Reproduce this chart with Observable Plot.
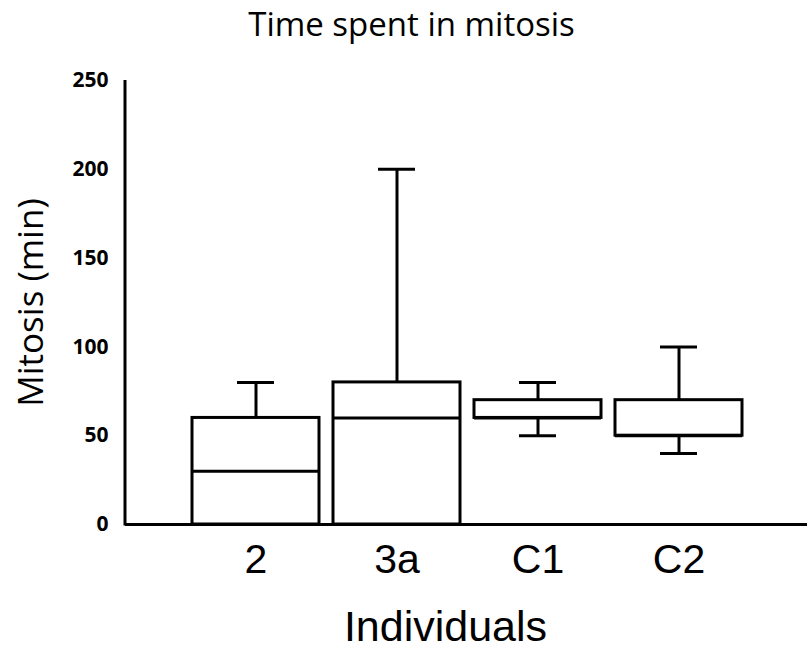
<!DOCTYPE html>
<html>
<head>
<meta charset="utf-8">
<script src="https://cdn.jsdelivr.net/npm/d3@7"></script>
<script src="https://cdn.jsdelivr.net/npm/@observablehq/plot@0.6"></script>
<style>
  html, body { margin: 0; padding: 0; background: #fff; }
</style>
</head>
<body>
<div id="chart"></div>
<script>
const categories = ["2", "3a", "C1", "C2"];
const mins    = [0, 0, 50, 40];
const q1s     = [0, 0, 60, 50];
const medians = [30, 60, 60, 50];
const q3s     = [60, 80, 70, 70];
const maxs    = [80, 200, 80, 100];
const yTicks  = [0, 50, 100, 150, 200, 250];
const title = "Time spent in mitosis";
const yLabel = "Mitosis (min)";
const xLabel = "Individuals";

const data = categories.map((c, i) => ({
  cat: c, min: mins[i], q1: q1s[i], median: medians[i], q3: q3s[i], max: maxs[i]
}));

const W = 807, H = 652;
const mL = 125, mR = 0, mT = 80, mB = 128;
const sans = "'Open Sans', sans-serif";
const arial = "'Liberation Sans', Arial, sans-serif";

const chart = Plot.plot({
  width: W,
  height: H,
  marginLeft: mL,
  marginRight: mR,
  marginTop: mT,
  marginBottom: mB,
  style: { background: "#fff", color: "#000", fontFamily: sans },
  x: { type: "band", domain: categories, range: [191, 744], paddingInner: 0.097, paddingOuter: 0, label: null },
  y: { domain: [0, 250], label: null },
  marks: [
    // whiskers
    Plot.ruleX(data, { x: "cat", y1: "q3", y2: "max", stroke: "#000", strokeWidth: 3 }),
    Plot.ruleX(data, { x: "cat", y1: "min", y2: "q1", stroke: "#000", strokeWidth: 3 }),
    // caps
    Plot.tickY(data.filter(d => d.max > d.q3), { x: "cat", y: "max", stroke: "#000", strokeWidth: 3, inset: 45 }),
    Plot.tickY(data.filter(d => d.min < d.q1), { x: "cat", y: "min", stroke: "#000", strokeWidth: 3, inset: 45 }),
    // boxes
    Plot.barY(data, { x: "cat", y1: "q1", y2: "q3", fill: "#fff", stroke: "#000", strokeWidth: 3 }),
    // medians
    Plot.tickY(data, { x: "cat", y: "median", stroke: "#000", strokeWidth: 3 }),
    // x axis line
    Plot.ruleY([0], { stroke: "#000", strokeWidth: 3 }),
    Plot.axisY({ ticks: yTicks, tickSize: 0, tickPadding: 17, fontSize: 21, fontWeight: "bold", label: null, fontFamily: sans }),
    Plot.axisX({ tickSize: 0, tickPadding: 19, fontSize: 41, label: null, fontFamily: arial }),
    Plot.text([title], { frameAnchor: "top", lineAnchor: "middle", textAnchor: "middle", dy: -54.6, dx: -55, fontSize: 33, fontFamily: sans }),
    Plot.text([yLabel], { frameAnchor: "left", lineAnchor: "middle", textAnchor: "middle", dx: -94, rotate: -90, fontSize: 35, fontFamily: sans }),
    Plot.text([xLabel], { frameAnchor: "bottom", lineAnchor: "middle", textAnchor: "middle", dy: 103, dx: -21, fontSize: 43, fontFamily: arial })
  ]
});

// y axis line along left edge of frame, from the y scale
const ys = chart.scale("y");
d3.select(chart).append("line")
  .attr("x1", mL).attr("x2", mL)
  .attr("y1", ys.apply(250)).attr("y2", ys.apply(0) + 1.5)
  .attr("stroke", "#000").attr("stroke-width", 3);

document.getElementById("chart").appendChild(chart);
</script>
</body>
</html>
